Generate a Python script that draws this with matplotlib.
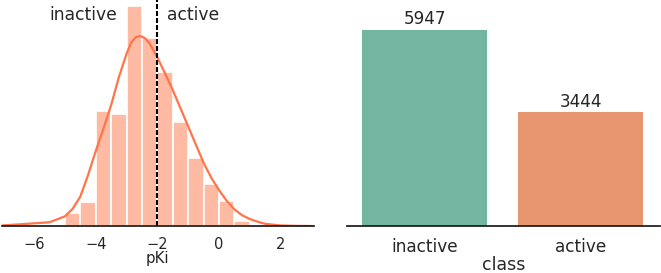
import numpy as np
import matplotlib
matplotlib.use("Agg")
import matplotlib.pyplot as plt

# ---- data ----
bin_edges = [-5.0, -4.5, -4.0, -3.5, -3.0, -2.5, -2.0, -1.5, -1.0, -0.5, 0.0, 0.5, 1.0]
bin_counts = [111, 214, 1012, 983, 1931, 1647, 1355, 913, 594, 366, 223, 44]

kde_x = [-7.05, -6.5, -6.0, -5.5, -5.0, -4.75, -4.5, -4.25, -4.0, -3.75, -3.5, -3.25,
         -3.0, -2.85, -2.7, -2.55, -2.4, -2.25, -2.0, -1.75, -1.5, -1.25, -1.0, -0.75,
         -0.5, -0.25, 0.0, 0.25, 0.5, 0.75, 1.0, 1.25, 1.5, 2.0, 2.5, 3.0]
kde_y = [0.001, 0.003, 0.005, 0.007, 0.018, 0.032, 0.055, 0.095, 0.140, 0.182, 0.226, 0.278,
         0.322, 0.343, 0.353, 0.355, 0.351, 0.341, 0.315, 0.285, 0.254, 0.220, 0.186, 0.152,
         0.118, 0.090, 0.067, 0.047, 0.031, 0.020, 0.013, 0.008, 0.004, 0.001, 0.0002, 0.0]

threshold = -2.0
classes = ["inactive", "active"]
class_counts = [5947, 3444]

# ---- style ----
text_color = "#262626"
line_color = "#ff7448"
hist_color = "#ffbaa3"
bar_colors = ["#72b6a2", "#e8966f"]

W, H = 661, 273
fig = plt.figure(figsize=(W / 100, H / 100), dpi=100)

# left panel
ax1 = fig.add_axes([1.7 / W, 47 / H, 312.3 / W, 226 / H])
centers = [(bin_edges[i] + bin_edges[i + 1]) / 2 for i in range(len(bin_counts))]
ax1.hist(centers, bins=bin_edges, weights=bin_counts, density=True,
         color=hist_color, edgecolor="white", linewidth=1.2)
ax1.plot(kde_x, kde_y, color=line_color, lw=1.6)
ax1.axvline(threshold, color="black", lw=1.5, linestyle=(0, (2.4, 0.96)))
ax1.text(-4.41, 0.385, "inactive", ha="center", va="baseline", fontsize=12.3, color=text_color)
ax1.text(-0.83, 0.385, "active", ha="center", va="baseline", fontsize=12.3, color=text_color)
ax1.set_xlim(-7.05, 3.08)
ax1.set_ylim(0, 226 / 535)
ax1.set_xticks([-6, -4, -2, 0, 2])
ax1.set_xticklabels(["\u22126", "\u22124", "\u22122", "0", "2"])
ax1.set_yticks([])
ax1.tick_params(axis="x", length=0, pad=8.0, labelsize=10.5, labelcolor=text_color)
ax1.set_xlabel("pKi", fontsize=10.8, color=text_color)
ax1.xaxis.set_label_coords(0.5, -0.112)
for s in ["top", "right", "left"]:
    ax1.spines[s].set_visible(False)
ax1.spines["bottom"].set_color("#1a1a1a")
ax1.spines["bottom"].set_linewidth(1.25)

# right panel
ax2 = fig.add_axes([346.7 / W, 47 / H, 313.3 / W, 226 / H])
xpos = np.arange(len(classes))
ax2.bar(xpos, class_counts, width=0.8, color=bar_colors)
for x, v in zip(xpos, class_counts):
    ax2.text(x, v + 60, str(v), ha="center", va="bottom", fontsize=12.2, color=text_color)
ax2.set_xlim(-0.5, 1.51)
ax2.set_ylim(0, 5947 * 226 / 196)
ax2.set_xticks(xpos)
ax2.set_xticklabels(classes)
ax2.set_yticks([])
ax2.tick_params(axis="x", length=0, pad=8.6, labelsize=12.2, labelcolor=text_color)
ax2.set_xlabel("class", fontsize=12.5, color=text_color)
ax2.xaxis.set_label_coords(0.5, -0.133)
for s in ["top", "right", "left"]:
    ax2.spines[s].set_visible(False)
ax2.spines["bottom"].set_color("#1a1a1a")
ax2.spines["bottom"].set_linewidth(1.25)

fig.savefig("out.png", dpi=100)
